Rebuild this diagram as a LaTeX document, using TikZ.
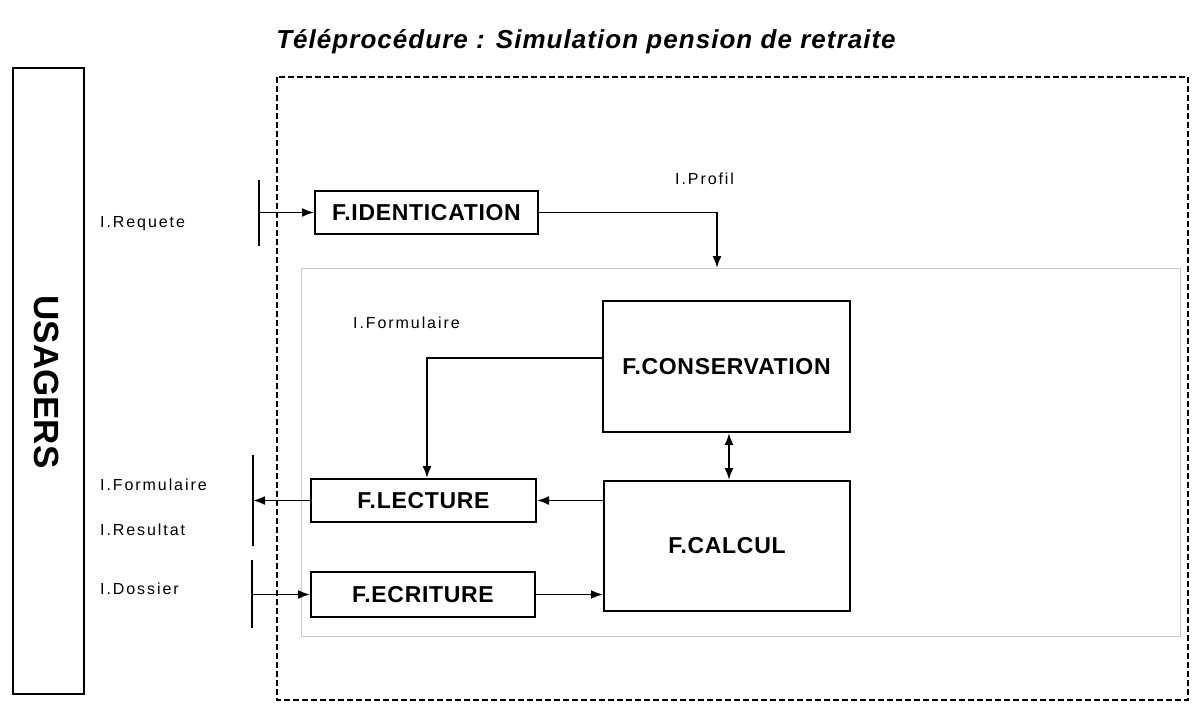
\documentclass[tikz,border=0pt]{standalone}
\usepackage{fontspec}
\setmainfont{Liberation Sans}
\newfontfamily\lblfont[LetterSpace=12]{Liberation Sans}
\newfontfamily\boxfont[LetterSpace=3]{Liberation Sans}
\newfontfamily\titlefont[LetterSpace=4]{Liberation Sans}
\usetikzlibrary{arrows.meta}
\begin{document}
\begin{tikzpicture}[x=1pt,y=-1pt,
  fbox/.style={draw,line width=2pt,inner sep=0pt,anchor=center,
    font=\boxfont\fontsize{23}{23}\selectfont\bfseries},
  lbl/.style={anchor=base west,inner sep=0pt,font=\lblfont\fontsize{16}{16}\selectfont},
  arr/.style={line width=1.9pt,-{Latex[length=12pt,width=9pt]}},
  darr/.style={line width=1.9pt,{Latex[length=12pt,width=9pt]}-{Latex[length=12pt,width=9pt]}},
  bar/.style={line width=2.2pt}]
\useasboundingbox (0,0) rectangle (1192,704);
\fill[white] (0,0) rectangle (1192,704);

% title
\node[anchor=base,inner sep=0pt,font=\titlefont\fontsize{26}{26}\selectfont\bfseries\itshape] (title) at (586,48) {Téléprocédure : Simulation pension de retraite};

% frames
\draw[line width=1.5pt,dash pattern=on 6pt off 3pt] (277,77) rectangle (1188,700);
\draw[gray!40,line width=1pt] (301,268) rectangle (1180,636);

% usagers
\node[draw,line width=2pt,minimum width=71pt,minimum height=626pt,inner sep=0pt] (usagers) at (48.5,381) {};
\node[rotate=-90,inner sep=0pt,font=\fontsize{35}{35}\selectfont\bfseries] (usagerstxt) at (47,382) {USAGERS};

% boxes
\node[fbox,minimum width=223pt,minimum height=43pt] (ident) at (426.5,212.5) {F.IDENTICATION};
\node[fbox,minimum width=247pt,minimum height=131pt] (cons) at (726.5,366.5) {F.CONSERVATION};
\node[fbox,minimum width=225pt,minimum height=43pt] (lect) at (423.5,500.5) {F.LECTURE};
\node[fbox,minimum width=246pt,minimum height=130pt] (calc) at (727,546) {F.CALCUL};
\node[fbox,minimum width=224pt,minimum height=45pt] (ecr) at (423,594.5) {F.ECRITURE};

% bars
\coordinate (b1t) at (259,180); \coordinate (b1b) at (259,246);
\coordinate (b2t) at (253,455); \coordinate (b2b) at (253,546);
\coordinate (b3t) at (252,560); \coordinate (b3b) at (252,628);
\draw[bar] (b1t) -- (b1b);
\draw[bar] (b2t) -- (b2b);
\draw[bar] (b3t) -- (b3b);
\coordinate (pf) at (717,268);

% connectors
\draw[arr] (ident.west -| b1t) -- (ident.west);
\draw[arr] (ident.east) -| (pf);
\draw[arr] (cons.west |- 0,358) -| ([xshift=3.5pt]lect.north);
\draw[darr] (cons.south -| 729,0) -- (calc.north -| 729,0);
\draw[arr] (calc.west |- lect.east) -- (lect.east);
\draw[arr] (lect.west) -- (lect.west -| b2t);
\draw[arr] (ecr.west -| b3t) -- (ecr.west);
\draw[arr] (ecr.east) -- (ecr.east -| calc.west);

% labels
\node[lbl] (lreq) at (100,227) {I.Requete};
\node[lbl] (lprof) at (675,184) {I.Profil};
\node[lbl] (lform1) at (353,328) {I.Formulaire};
\node[lbl] (lform2) at (100,490) {I.Formulaire};
\node[lbl] (lres) at (100,535) {I.Resultat};
\node[lbl] (ldos) at (100,594) {I.Dossier};
\end{tikzpicture}
\end{document}
